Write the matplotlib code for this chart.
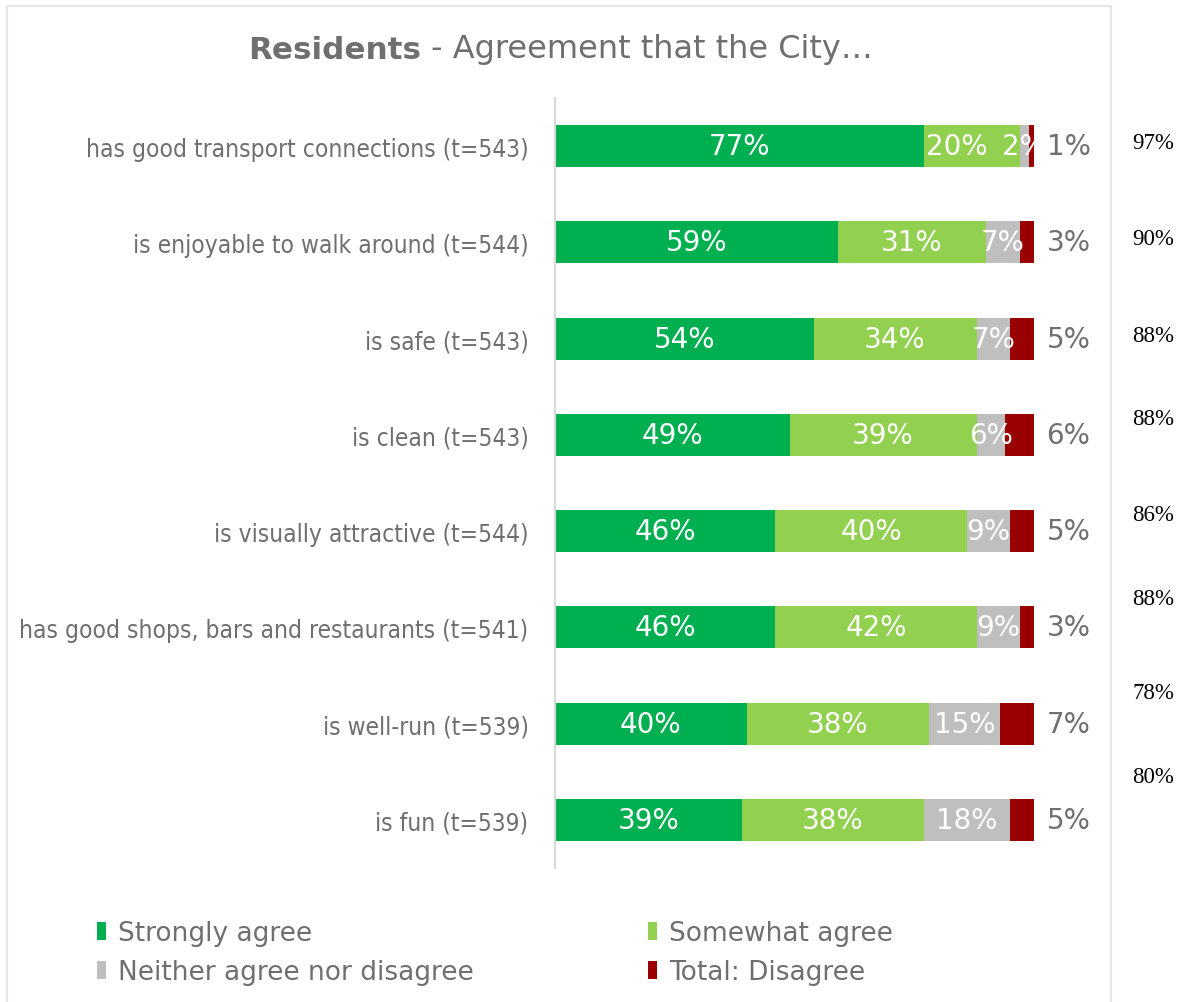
import matplotlib
matplotlib.use("Agg")
import matplotlib.pyplot as plt
from matplotlib.patches import Rectangle

categories = [
    "has good transport connections (t=543)",
    "is enjoyable to walk around (t=544)",
    "is safe (t=543)",
    "is clean (t=543)",
    "is visually attractive (t=544)",
    "has good shops, bars and restaurants (t=541)",
    "is well-run (t=539)",
    "is fun (t=539)",
]
strongly = [77, 59, 54, 49, 46, 46, 40, 39]
somewhat = [20, 31, 34, 39, 40, 42, 38, 38]
neither = [2, 7, 7, 6, 9, 9, 15, 18]
disagree = [1, 3, 5, 6, 5, 3, 7, 5]
total_agree = ["97%", "90%", "88%", "88%", "86%", "88%", "78%", "80%"]
series_names = ["Strongly agree", "Somewhat agree", "Neither agree nor disagree", "Total: Disagree"]

# style
colors = ["#00B050", "#92D050", "#BFBFBF", "#990000"]
text_gray = "#6F6F72"
right_label_offsets = [-0.04, -0.04, -0.03, -0.17, -0.17, -0.30, -0.32, -0.45]

W, H = 1179, 1003
fig = plt.figure(figsize=(W / 100, H / 100), dpi=100)

# outer frame
fig.patches.append(Rectangle((7 / W, -0.05), (1111 - 7) / W, 1.05 - 7 / H,
                             transform=fig.transFigure, fill=False,
                             edgecolor="#E6E6E6", linewidth=1.6))

ax = fig.add_axes([555 / W, (H - 869) / H, 479 / W, 770 / H])
n = len(categories)
ypos = list(range(n))
bh = 0.436

lefts = [0] * n
containers = []
for vals, col, name in zip([strongly, somewhat, neither, disagree], colors, series_names):
    c = ax.barh(ypos, vals, left=lefts, height=bh, color=col, label=name, linewidth=0)
    containers.append(c)
    lefts = [a + b for a, b in zip(lefts, vals)]

lab_font = dict(fontsize=20, family="DejaVu Sans")
inner_labels = []
for c, vals in zip(containers[:3], [strongly, somewhat, neither]):
    inner_labels.append(ax.bar_label(c, labels=[f"{v}%" for v in vals], label_type="center",
                                     color="white", **lab_font))
ax.bar_label(containers[3], labels=[f"{v}%" for v in disagree], label_type="edge",
             padding=9, color=text_gray, **lab_font)
# nudge crowded label in first row (as in the reference)
inner_labels[1][0].xyann = (-11, 0)

ax.set_xlim(0, 100)
ax.set_ylim(n - 0.5, -0.5)
ax.set_yticks(ypos)
ax.set_yticklabels(categories, fontsize=17.6, color=text_gray,
                   family="DejaVu Sans", fontstretch="condensed")
ax.tick_params(axis="y", length=0, pad=19)
ax.tick_params(axis="x", bottom=False, labelbottom=False)
for s in ["top", "right", "bottom"]:
    ax.spines[s].set_visible(False)
ax.spines["left"].set_color("#D9D9D9")
ax.spines["left"].set_linewidth(1.5)

# right side totals
for i, t in enumerate(total_agree):
    ax.annotate(t, xy=(100, i + right_label_offsets[i]), xycoords="data",
                xytext=(98, 0), textcoords="offset pixels",
                ha="left", va="center", fontsize=16.5, color="black",
                family="Liberation Serif", annotation_clip=False)

# title
t1 = fig.text(248 / W, 1 - 59 / H, "Residents", fontsize=22.3, fontweight="bold",
              color=text_gray, family="DejaVu Sans", va="baseline")
fig.canvas.draw()
ax.annotate(" - Agreement that the City…", xy=(1, 0), xycoords=t1, va="bottom",
            ha="left", fontsize=23, color=text_gray, family="DejaVu Sans",
            annotation_clip=False)

# legend
handles = [containers[0], containers[2], containers[1], containers[3]]
labels = [series_names[0], series_names[2], series_names[1], series_names[3]]
leg = fig.legend(handles, labels, ncol=2, loc="upper left",
                 bbox_to_anchor=(84 / W, 1 - 908 / H), frameon=False,
                 prop=dict(size=19, family="DejaVu Sans"),
                 handlelength=0.35, handleheight=0.7, handletextpad=0.45,
                 columnspacing=6.6, labelspacing=0.5, borderpad=0)
for txt in leg.get_texts():
    txt.set_color(text_gray)

fig.savefig("out.png", dpi=100)
